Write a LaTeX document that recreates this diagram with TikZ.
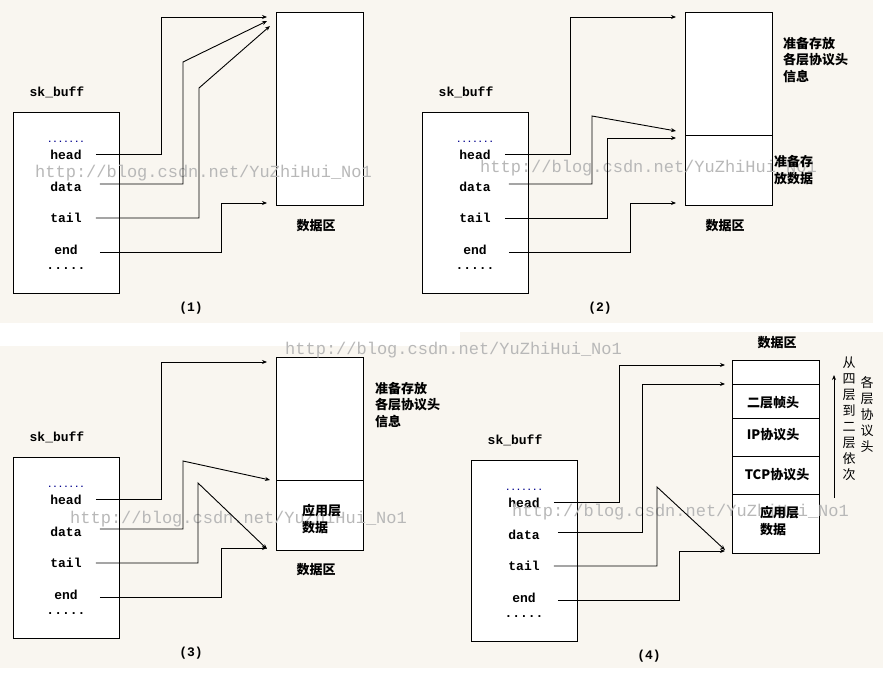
\documentclass[tikz,border=0pt]{standalone}
\usepackage{fontspec}
\setmainfont{Liberation Mono}
\newfontfamily\cjk{Noto Sans CJK SC}
\newfontfamily\mono{Liberation Mono}
\usetikzlibrary{arrows.meta}
\definecolor{beige}{RGB}{249,246,240}
\definecolor{wm}{RGB}{184,184,184}
\definecolor{navy}{RGB}{0,0,140}
\newcommand\mySkPart[2]{%
 \begin{scope}[shift={#1}]
  \node[sbox] (sb#2) at (66,202.5) {};
  \node[lbl] (sk#2) at (57,92) {sk\_buff};
  \node[dotl] (dt#2) at (66,142) {.......};
  \node[lbl] (hd#2) at (66,155) {head};
  \node[lbl] (da#2) at (66,187) {data};
  \node[lbl] (ta#2) at (66,218) {tail};
  \node[lbl] (en#2) at (66,250) {end};
  \node[lbl] (md#2) at (66,269) {.....};
 \end{scope}}
\begin{document}
\begin{tikzpicture}[x=1pt,y=-1pt,
  lbl/.style={font=\mono\bfseries\fontsize{13}{13}\selectfont, inner sep=0pt},
  dotl/.style={font=\mono\bfseries\fontsize{9}{9}\selectfont, text=navy, inner sep=0pt},
  cn/.style={font=\cjk\bfseries\fontsize{13}{16.5}\selectfont, inner sep=0pt, align=left},
  vt/.style={font=\cjk\fontsize{13}{16}\selectfont, inner sep=0pt, align=center},
  wmk/.style={font=\mono\fontsize{17}{17}\selectfont, text=wm, inner sep=0pt, anchor=base west},
  conn/.style={draw, line width=0.9pt, -{Stealth[length=5pt,width=4pt]}},
  sbox/.style={draw, fill=white, line width=0.9pt, minimum width=106pt, minimum height=181pt, inner sep=0pt},
  dbox/.style={draw, fill=white, line width=0.9pt, minimum width=87pt, minimum height=193pt, inner sep=0pt},
  divl/.style={draw, line width=0.9pt}
]
\useasboundingbox (0,0) rectangle (883,679);
% background
\fill[white] (0,0) rectangle (883,679);
\fill[beige] (0,0) rectangle (873,323);
\fill[beige] (0,346) rectangle (460,668);
\fill[beige] (460,332) rectangle (883,668);

% sk_buff parts
\mySkPart{(0,0)}{1}
\mySkPart{(409,0)}{2}
\mySkPart{(0,345)}{3}
\mySkPart{(458,348)}{4}

% data areas
\node[dbox] (db1) at (319.5,108.5) {};
\node[dbox] (db2) at (728.5,108.5) {};
\node[dbox] (db3) at (319.5,453.5) {};
\node[dbox] (db4) at (775.5,456.5) {};
\path[divl] (685,135) -- (772,135);
\path[divl] (276,480) -- (363,480);
\path[divl] (732,384) -- (819,384);
\path[divl] (732,418) -- (819,418);
\path[divl] (732,456) -- (819,456);
\path[divl] (732,494) -- (819,494);

% watermarks
\node[wmk] (w1) at (35,178) {http://blog.csdn.net/YuZhiHui\_No1};
\node[wmk] (w2) at (480,173) {http://blog.csdn.net/YuZhiHui\_No1};
\node[wmk] (w3) at (285,354) {http://blog.csdn.net/YuZhiHui\_No1};
\node[wmk] (w4) at (70,523) {http://blog.csdn.net/YuZhiHui\_No1};
\node[wmk] (w5) at (512,516) {http://blog.csdn.net/YuZhiHui\_No1};

% arrow targets
\coordinate (t1a) at (267,17);  \coordinate (t1b) at (267,21);
\coordinate (t1c) at (270,26);  \coordinate (t1d) at (267,203);
\coordinate (t2a) at (676,17);  \coordinate (t2b) at (676,131);
\coordinate (t2c) at (676,138); \coordinate (t2d) at (676,203);
\coordinate (t3a) at (267,362); \coordinate (t3b) at (270,480);
\coordinate (t3c) at (267,549); \coordinate (t3d) at (267,548);
\coordinate (t4a) at (725,365); \coordinate (t4b) at (725,384);
\coordinate (t4c) at (725,550); \coordinate (t4d) at (725,551);

% panel 1 connectors
\draw[conn] (hd1.east) ++(14,-1) -| (161,17) -- (t1a);
\draw[conn] (da1.east) ++(18,-3) -| (183,62) -- (t1b);
\draw[conn] (ta1.east) ++(14,0) -| (199,88) -- (t1c);
\draw[conn] (en1.east) ++(22,2) -| (221,203) -- (t1d);
% panel 2
\draw[conn] (hd2.east) ++(14,-1) -| (570,17) -- (t2a);
\draw[conn] (da2.east) ++(18,-3) -| (592,116) -- (t2b);
\draw[conn] (ta2.east) ++(14,0) -| (607,138) -- (t2c);
\draw[conn] (en2.east) ++(22,2) -| (630,203) -- (t2d);
% panel 3
\draw[conn] (hd3.east) ++(14,-1) -| (161,362) -- (t3a);
\draw[conn] (da3.east) ++(18,-3) -| (183,461) -- (t3b);
\draw[conn] (ta3.east) ++(14,0) -| (198,483) -- (t3c);
\draw[conn] (en3.east) ++(22,2) -| (221,548) -- (t3d);
% panel 4
\draw[conn] (hd4.east) ++(14,-1) -| (619,365) -- (t4a);
\draw[conn] (da4.east) ++(18,-3) -| (642,384) -- (t4b);
\draw[conn] (ta4.east) ++(14,0) -| (657,487) -- (t4c);
\draw[conn] (en4.east) ++(22,2) -| (679,551) -- (t4d);

% labels
\node[cn] (dq1) at (316,226) {数据区};
\node[lbl] (n1) at (191,308) {(1)};
\node[cn] (dq2) at (725,226) {数据区};
\node[lbl] (n2) at (600,308) {(2)};
\node[cn, anchor=west] (inf2) at (783,60) {准备存放\\各层协议头\\信息};
\node[cn, anchor=west] (st2) at (774,170) {准备存\\放数据};
\node[cn] (dq3) at (316,570) {数据区};
\node[lbl] (n3) at (191,653) {(3)};
\node[cn, anchor=west] (inf3) at (375,405) {准备存放\\各层协议头\\信息};
\node[cn, anchor=west] (ap3) at (302,519) {应用层\\数据};
\node[cn] (dq4) at (777,343) {数据区};
\node[lbl] (n4) at (649,656) {(4)};
\node[cn] (l2) at (773,403) {二层帧头};
\node[cn] (lip) at (773,435) {IP协议头};
\node[cn] (ltcp) at (777,475) {TCP协议头};
\node[cn, anchor=west] (ap4) at (760,521) {应用层\\数据};
\coordinate (va0) at (834,498);
\coordinate (va1) at (834,375);
\draw[conn] (va0) -- (va1);
\node[vt] (vt1) at (849,419) {从\\四\\层\\到\\二\\层\\依\\次};
\node[vt] (vt2) at (867,414) {各\\层\\协\\议\\头};
\end{tikzpicture}
\end{document}
